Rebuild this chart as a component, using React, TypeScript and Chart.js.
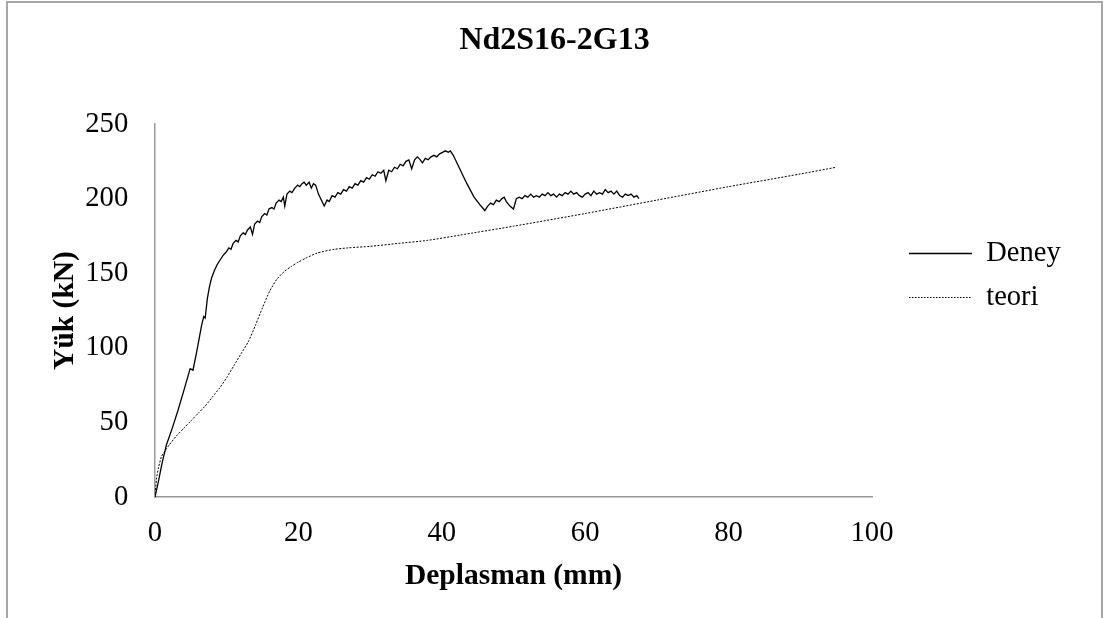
import React, { useEffect, useRef } from "react";
import { Chart, registerables } from "chart.js";

Chart.register(...registerables);

const CHART_TITLE = "Nd2S16-2G13";
const X_TITLE = "Deplasman (mm)";
const Y_TITLE = "Yük (kN)";
const SERIES_NAMES = ["Deney", "teori"];
const X_MIN = 0, X_MAX = 100, X_STEP = 20;
const Y_MIN = 0, Y_MAX = 250, Y_STEP = 50;

const deneyX = [
  0, 0.5, 1.0, 1.6, 2.4, 3.2, 4.0, 4.9, 5.3, 5.8, 6.5, 6.8, 7.0, 7.3, 7.6, 7.9,
  8.3, 8.7, 9.1, 9.5, 9.9, 10.3, 10.6, 10.9, 11.3, 11.6, 11.9, 12.3, 12.6, 12.9,
  13.3, 13.6, 13.9, 14.3, 14.6, 14.9, 15.3, 15.6, 15.9, 16.3, 16.6, 16.9, 17.3,
  17.6, 17.9, 18.1, 18.4, 18.8, 19.1, 19.5, 19.9, 20.2, 20.5, 20.8, 21.1, 21.5,
  21.8, 22.1, 22.4, 22.8, 23.2, 23.6, 24.0, 24.3, 24.7, 25.1, 25.5, 25.9, 26.3,
  26.7, 27.1, 27.5, 27.9, 28.3, 28.7, 29.1, 29.5, 29.9, 30.3, 30.7, 31.1, 31.5,
  31.9, 32.2, 32.6, 33.0, 33.4, 33.8, 34.2, 34.6, 35.0, 35.4, 35.8, 36.2, 36.6,
  37.0, 37.3, 37.7, 38.1, 38.5, 38.9, 39.3, 39.7, 40.1, 40.5, 40.9, 41.2, 41.6,
  42.5, 43.5, 44.5, 45.3, 46.0, 46.4, 46.8, 47.2, 47.6, 48.0, 48.4, 48.7, 49.0,
  49.5, 50.0, 50.4, 50.8, 51.2, 51.6, 52.0, 52.4, 52.8, 53.2, 53.6, 54.0, 54.4,
  54.8, 55.2, 55.6, 56.0, 56.4, 56.8, 57.2, 57.6, 58.0, 58.4, 58.8, 59.2, 59.6,
  60.0, 60.4, 60.8, 61.2, 61.6, 62.0, 62.4, 62.8, 63.2, 63.6, 64.0, 64.4, 64.8,
  65.2, 65.6, 66.0, 66.4, 66.8, 67.2, 67.5,
];
const deneyY = [
  0, 11, 23, 35, 46, 58, 71, 86, 85, 97, 115, 121, 120, 133, 141, 147,
  152, 156, 159, 162, 164, 167, 166, 170, 172, 171, 175, 177, 176, 179,
  181, 176, 183, 185, 184, 188, 190, 189, 193, 194, 193, 197, 199,
  198, 201, 195, 203, 205, 204, 207, 209, 208, 210, 211, 209, 211,
  207, 210, 209, 203, 199, 195, 199, 198, 202, 201, 204, 203, 206,
  205, 208, 207, 210, 209, 212, 211, 214, 213, 216, 215, 218, 217,
  219, 212, 219, 218, 221, 220, 223, 222, 225, 226, 220, 226, 228,
  226, 224, 227, 226, 228, 229, 228, 230, 231, 232, 231, 232, 229,
  220, 210, 201, 196, 192, 195, 197, 196, 199, 198, 200, 201, 198,
  195, 193, 200, 201, 200, 202, 201, 203, 201, 202, 201, 203, 202,
  204, 202, 203, 201, 203, 202, 204, 203, 205, 203, 204, 202, 201,
  203, 204, 202, 205, 203, 204, 203, 206, 204, 205, 203, 205, 202,
  201, 203, 202, 203, 201, 202, 200,
];

const teoriX = [
  0, 0.2, 0.5, 0.9, 1.4, 2, 3, 4, 5, 6, 7, 8, 9, 10, 11, 12, 13, 14, 15, 16,
  17, 18, 19, 20, 21, 22.6, 25, 27, 30, 34, 38, 42.5, 50, 60, 70, 80, 90, 95,
];
const teoriY = [
  0, 12, 20, 27, 31, 35, 41, 46, 51, 56, 61, 67, 73, 80, 88, 96, 104, 115, 127,
  138, 146, 151, 154.5, 157.5, 160, 163.5, 166, 167, 168, 170, 172, 175.5,
  181.5, 190, 199, 208, 216.5, 221,
];

const FONT = "'Liberation Serif', 'Times New Roman', serif";

export default function App() {
  const ref = useRef<HTMLCanvasElement | null>(null);

  useEffect(() => {
    const canvas = ref.current;
    if (!canvas) return;
    const deneyData = deneyX.map((x, i) => ({ x, y: deneyY[i] }));
    const teoriData = teoriX.map((x, i) => ({ x, y: teoriY[i] }));
    const plotLeft = 155;
    const plotRight = 872;
    const yTitleCenter = 65;
    const yTitleFont = 29.5;

    const chart = new Chart(canvas, {
      type: "line",
      data: {
        datasets: [
          {
            label: SERIES_NAMES[0],
            data: deneyData,
            borderColor: "#000",
            backgroundColor: "#000",
            borderWidth: 1.3,
            pointRadius: 0,
            tension: 0,
            fill: false,
          },
          {
            label: SERIES_NAMES[1],
            data: teoriData,
            borderColor: "#000",
            backgroundColor: "#000",
            borderWidth: 1,
            borderDash: [2, 1.5],
            pointRadius: 0,
            tension: 0.2,
            fill: false,
          },
        ],
      },
      options: {
        animation: false,
        responsive: false,
        maintainAspectRatio: false,
        layout: { padding: { left: 10, right: 35, top: 0, bottom: 24.3 } },
        scales: {
          x: {
            type: "linear",
            min: X_MIN,
            max: X_MAX,
            ticks: {
              stepSize: X_STEP,
              color: "#000",
              padding: 19.3,
              font: { family: FONT, size: 28.7 },
            },
            grid: { display: false, drawTicks: false },
            border: { display: true, color: "#999", width: 1.5 },
            title: {
              display: true,
              text: X_TITLE,
              color: "#000",
              font: { family: FONT, size: 29.5, weight: "bold" },
              padding: { top: 7.6, bottom: 0 },
            },
            afterFit: (s: any) => {
              s.height = 96.7;
            },
          },
          y: {
            type: "linear",
            min: Y_MIN,
            max: Y_MAX,
            ticks: {
              stepSize: Y_STEP,
              color: "#000",
              padding: 26.7,
              font: { family: FONT, size: 28.7 },
            },
            grid: { display: false, drawTicks: false },
            border: { display: true, color: "#999", width: 1.5 },
            title: {
              display: true,
              text: Y_TITLE,
              color: "#000",
              font: { family: FONT, size: yTitleFont, weight: "bold" },
              padding: { top: yTitleCenter - (yTitleFont * 1.2) / 2 - 10, bottom: 0 },
            },
            afterFit: (s: any) => {
              const pl = (s.chart.options.layout.padding as any).left;
              s.width = plotLeft - pl;
            },
          },
          y2: {
            type: "linear",
            position: "right",
            display: true,
            ticks: { display: false },
            grid: { display: false, drawTicks: false },
            border: { display: false },
            afterFit: (s: any) => {
              s.width = 21.5;
            },
          },
        },
        plugins: {
          title: {
            display: true,
            text: CHART_TITLE,
            color: "#000",
            font: { family: FONT, size: 32, weight: "bold" },
            padding: { top: 21.8, bottom: 63.8 },
          },
          legend: {
            position: "right",
            align: "start",
            fullSize: false,
            maxWidth: 320,
            title: {
              display: true,
              text: "",
              font: { size: 10, lineHeight: 1 },
              padding: { top: 89.75, bottom: 0 },
            },
            labels: {
              usePointStyle: true,
              pointStyleWidth: 63,
              padding: 15.5,
              color: "#000",
              font: { family: FONT, size: 28.5 },
              generateLabels: (c: any) =>
                c.data.datasets.map((ds: any, i: number) => ({
                  text: ds.label,
                  fillStyle: "#000",
                  strokeStyle: "#000",
                  fontColor: "#000",
                  lineWidth: i === 0 ? 1.3 : 1,
                  lineDash: i === 0 ? [] : [1.5, 1.5],
                  pointStyle: "line",
                  hidden: false,
                  datasetIndex: i,
                })),
            },
          },
          tooltip: { enabled: false },
        },
      },
    });

    // settle the plot edges and centre the title over the page (two layout passes)
    for (let k = 0; k < 2; k++) {
      const pad = (chart.options.layout as any).padding;
      pad.right += chart.chartArea.right - plotRight;
      const wantLeft = Math.max(0, Math.min(plotLeft - 60, pad.right + 2));
      pad.left = wantLeft;
      (chart.options.scales as any).y.title.padding.top =
        yTitleCenter - (yTitleFont * 1.2) / 2 - wantLeft;
      chart.update();
    }

    return () => chart.destroy();
  }, []);

  return (
    <div style={{ position: "fixed", left: 0, top: 0, width: 1107, height: 618, background: "#fff" }}>
      <div
        style={{
          position: "absolute",
          left: 6,
          top: 1,
          width: 1097,
          height: 700,
          border: "2px solid #a6a6a6",
          boxSizing: "border-box",
        }}
      />
      <canvas
        ref={ref}
        width={1107}
        height={618}
        style={{ position: "absolute", left: 0, top: 0, width: 1107, height: 618 }}
      />
    </div>
  );
}
